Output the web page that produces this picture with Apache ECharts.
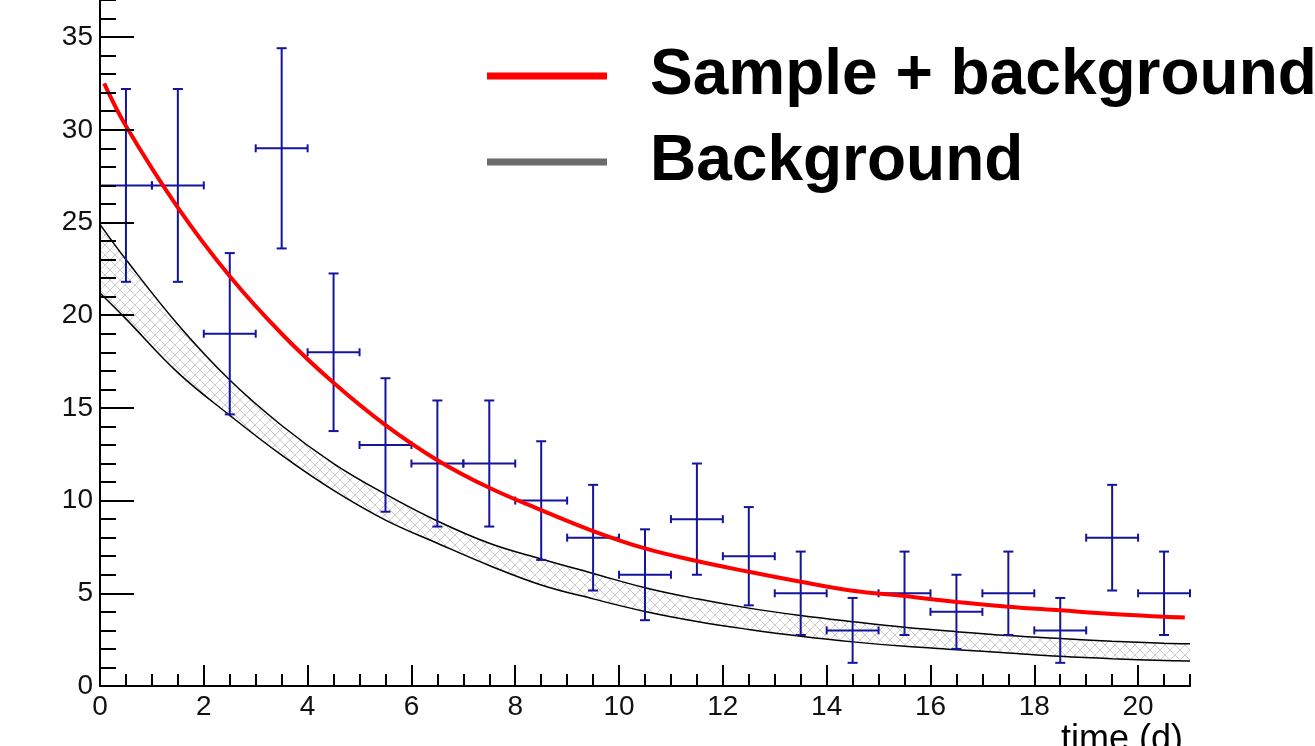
<!DOCTYPE html>
<html>
<head>
<meta charset="utf-8">
<script src="https://cdn.jsdelivr.net/npm/echarts@6/dist/echarts.min.js"></script>
<style>
html,body{margin:0;padding:0;background:#fff;}
#chart{width:1315px;height:746px;}
</style>
</head>
<body>
<div id="chart"></div>
<script>
// ---- data ----
const xTicks = [0, 2, 4, 6, 8, 10, 12, 14, 16, 18, 20];
const yTicks = [0, 5, 10, 15, 20, 25, 30, 35];

const binCenters = [0.5, 1.5, 2.5, 3.5, 4.5, 5.5, 6.5, 7.5, 8.5, 9.5, 10.5, 11.5, 12.5, 13.5, 14.5, 15.5, 16.5, 17.5, 18.5, 19.5, 20.5];
const counts     = [27, 27, 19, 29, 18, 13, 12, 12, 10, 8, 6, 9, 7, 5, 3, 5, 4, 5, 3, 8, 5];
const yErr       = [5.2, 5.2, 4.35, 5.4, 4.25, 3.6, 3.4, 3.4, 3.2, 2.85, 2.45, 3.0, 2.65, 2.25, 1.75, 2.25, 2.0, 2.25, 1.75, 2.85, 2.25];
const xErr       = [0.5, 0.5, 0.5, 0.5, 0.5, 0.5, 0.5, 0.5, 0.5, 0.5, 0.5, 0.5, 0.5, 0.5, 0.5, 0.5, 0.5, 0.5, 0.5, 0.5, 0.5];

const fitX = [0.08, 0.5, 1.5, 2.5, 3.5, 4.5, 5.5, 6.5, 7.5, 8.5, 9.5, 10.5, 11.5, 12.5, 13.5, 14.5, 15.5, 16.5, 17.5, 18.5, 19.5, 20.5, 20.9];
const fitY = [32.5, 30.2, 25.8, 22.1, 19.0, 16.35, 14.07, 12.18, 10.69, 9.49, 8.36, 7.42, 6.74, 6.16, 5.62, 5.14, 4.85, 4.53, 4.28, 4.08, 3.88, 3.74, 3.70];

const bandX     = [0, 0.5, 1.5, 2.5, 3.5, 4.5, 5.5, 6.5, 7.5, 8.5, 9.5, 10.5, 11.5, 12.5, 13.5, 14.5, 15.5, 16.5, 17.5, 18.5, 19.5, 20.5, 21];
const bandUpper = [24.9, 23.0, 19.5, 16.5, 14.05, 12.0, 10.35, 8.9, 7.7, 6.85, 6.07, 5.3, 4.7, 4.2, 3.8, 3.47, 3.17, 2.93, 2.72, 2.56, 2.42, 2.31, 2.28];
const bandLower = [21.2, 19.8, 16.9, 14.6, 12.45, 10.55, 8.95, 7.7, 6.5, 5.45, 4.7, 4.02, 3.48, 3.05, 2.68, 2.38, 2.14, 1.96, 1.78, 1.6, 1.47, 1.38, 1.35];

// ---- styles ----
const BLUE = '#14149c';
const FONT = '"Liberation Sans", Arial, sans-serif';

function makeHatch() {
  const s = 10;
  const c = document.createElement('canvas');
  c.width = s; c.height = s;
  const g = c.getContext('2d');
  g.fillStyle = '#ffffff';
  g.fillRect(0, 0, s, s);
  g.strokeStyle = '#cdcdcd';
  g.lineWidth = 1;
  g.beginPath();
  g.moveTo(0, 0); g.lineTo(s, s);
  g.moveTo(s, 0); g.lineTo(0, s);
  g.stroke();
  return c;
}
const hatch = makeHatch();

const errData = binCenters.map((x, i) => [x, counts[i], xErr[i], yErr[i]]);

function renderErr(params, api) {
  const x = api.value(0), y = api.value(1), ex = api.value(2), ey = api.value(3);
  const c = api.coord([x, y]);
  const t = api.coord([x, y + ey]);
  const b = api.coord([x, y - ey]);
  const l = api.coord([x - ex, y]);
  const r = api.coord([x + ex, y]);
  const st = { stroke: BLUE, lineWidth: 2 };
  const ln = (x1, y1, x2, y2) => ({ type: 'line', shape: { x1, y1, x2, y2 }, style: st });
  return {
    type: 'group',
    children: [
      ln(c[0], t[1], c[0], b[1]),
      ln(c[0] - 5, t[1], c[0] + 5, t[1]),
      ln(c[0] - 5, b[1], c[0] + 5, b[1]),
      ln(l[0], c[1], r[0], c[1]),
      ln(l[0], c[1] - 4, l[0], c[1] + 4),
      ln(r[0], c[1] - 4, r[0], c[1] + 4)
    ]
  };
}

const axisLineStyle = { color: '#000', width: 2 };

const option = {
  animation: false,
  backgroundColor: '#fff',
  grid: { left: 100, top: 0, width: 1090, height: 686, containLabel: false },
  legend: {
    orient: 'vertical',
    left: 482,
    top: 39,
    icon: 'rect',
    itemWidth: 120,
    itemHeight: 7,
    itemGap: 22,
    selectedMode: false,
    textStyle: { fontSize: 64, fontWeight: 'bold', fontFamily: FONT, color: '#000', padding: [0, 0, 0, 38] },
    data: [
      { name: 'Sample + background', itemStyle: { color: '#ff0000' } },
      { name: 'Background', itemStyle: { color: '#6b6b6b' } }
    ]
  },
  xAxis: [
    {
      type: 'value', min: 0, max: 21, interval: 2, z: 10,
      axisLine: { show: true, lineStyle: axisLineStyle },
      axisTick: { show: true, inside: true, length: 21, lineStyle: axisLineStyle, customValues: xTicks },
      axisLabel: { show: true, customValues: xTicks, margin: 7, fontSize: 28, fontFamily: FONT, color: '#111' },
      splitLine: { show: false }
    },
    {
      type: 'value', min: 0, max: 21, interval: 0.5, position: 'bottom', offset: 0, z: 10,
      axisLine: { show: false },
      axisTick: { show: true, inside: true, length: 12, lineStyle: axisLineStyle },
      axisLabel: { show: false },
      splitLine: { show: false }
    }
  ],
  yAxis: [
    {
      type: 'value', min: 0, max: 37, interval: 5, z: 10,
      axisLine: { show: true, lineStyle: axisLineStyle },
      axisTick: { show: true, inside: true, length: 34, lineStyle: axisLineStyle, customValues: yTicks },
      axisLabel: { show: true, customValues: yTicks, margin: 7, fontSize: 28, fontFamily: FONT, color: '#111', padding: [5, 0, 0, 0] },
      splitLine: { show: false }
    },
    {
      type: 'value', min: 0, max: 37, interval: 1, position: 'left', offset: 0, z: 10,
      axisLine: { show: false },
      axisTick: { show: true, inside: true, length: 16, lineStyle: axisLineStyle },
      axisLabel: { show: false },
      splitLine: { show: false }
    }
  ],
  graphic: [
    {
      type: 'text', x: 1183, y: 722,
      style: { text: 'time (d)', fontSize: 36, fontFamily: FONT, fill: '#000', textAlign: 'right', textVerticalAlign: 'top' }
    }
  ],
  series: [
    {
      name: 'Background', type: 'line', data: bandX.map((x, i) => [x, bandUpper[i]]),
      showSymbol: false, smooth: 0.4, z: 2, silent: true,
      lineStyle: { color: '#000', width: 1.5 }, itemStyle: { color: '#6b6b6b' },
      areaStyle: { color: { image: hatch, repeat: 'repeat' }, opacity: 1 }
    },
    {
      name: 'bgLower', type: 'line', data: bandX.map((x, i) => [x, bandLower[i]]),
      showSymbol: false, smooth: 0.4, z: 3, silent: true,
      lineStyle: { color: '#000', width: 1.5 },
      areaStyle: { color: '#ffffff', opacity: 1 }
    },
    {
      name: 'data', type: 'custom', renderItem: renderErr, data: errData, z: 4,
      encode: { x: 0, y: 1 }, silent: true
    },
    {
      name: 'Sample + background', type: 'line', data: fitX.map((x, i) => [x, fitY[i]]),
      showSymbol: false, smooth: 0.4, z: 6, silent: true,
      lineStyle: { color: '#ff0000', width: 4 }, itemStyle: { color: '#ff0000' }
    }
  ]
};

const chart = echarts.init(document.getElementById('chart'), null, { renderer: 'canvas' });
chart.setOption(option);
</script>
</body>
</html>
